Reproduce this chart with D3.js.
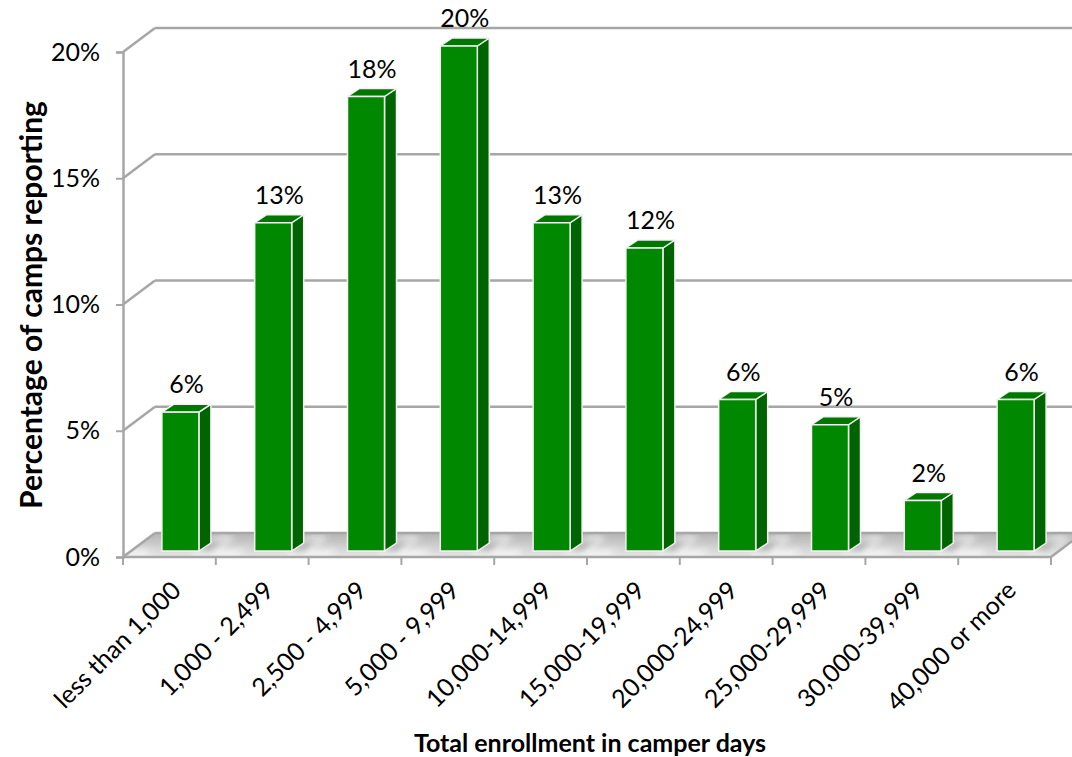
<!DOCTYPE html>
<html>
<head>
<meta charset="utf-8">
<script src="https://cdn.jsdelivr.net/npm/d3@7"></script>
<style>
  body { margin: 0; background: #fff; }
  text { font-family: Lato, "Open Sans", sans-serif; fill: #000; }
</style>
</head>
<body>
<svg id="chart" width="1072" height="757"></svg>
<script>
// Camp enrollment distribution (percent of camps in each camper-day bracket)
const categories = [
  "less than 1,000", "1,000 - 2,499", "2,500 - 4,999", "5,000 - 9,999",
  "10,000-14,999", "15,000-19,999", "20,000-24,999", "25,000-29,999",
  "30,000-39,999", "40,000 or more"
];
const values = [5.5, 13, 18, 20, 13, 12, 6, 5, 2, 6];
const yTicks = [0, 5, 10, 15, 20];
const yTitle = "Percentage of camps reporting";
const xTitle = "Total enrollment in camper days";

const svg = d3.select("#chart");
const defs = svg.append("defs");

// Plot frame (front plane) and the oblique depth offset of the back wall
const plotLeft = 123, plotRight = 1051, plotBottom = 557, plotTop = 52;
const depthX = 32, depthY = -24;

const x = d3.scaleBand().domain(categories).range([plotLeft, plotRight]).paddingInner(0).paddingOuter(0);
const y = d3.scaleLinear().domain([0, 20]).range([plotBottom, plotTop]);

const grid = "#a6a6a6";
const labelSize = "25px";
const pts = arr => arr.map(p => p.join(",")).join(" ");

// Floor shading gradient
const floorGrad = defs.append("linearGradient").attr("id", "floorGrad")
  .attr("x1", 0).attr("y1", 0).attr("x2", 0).attr("y2", 1);
floorGrad.append("stop").attr("offset", 0).attr("stop-color", "#b4b4b4");
floorGrad.append("stop").attr("offset", 1).attr("stop-color", "#e6e6e6");

const softBlur = defs.append("filter").attr("id", "softBlur")
  .attr("x", "-50%").attr("y", "-50%").attr("width", "200%").attr("height", "200%");
softBlur.append("feGaussianBlur").attr("stdDeviation", 3.5);

// Floor
svg.append("polygon")
  .attr("points", pts([[plotLeft, plotBottom], [plotRight, plotBottom],
    [plotRight + depthX, plotBottom + depthY], [plotLeft + depthX, plotBottom + depthY]]))
  .attr("fill", "url(#floorGrad)");

// Light streaks on the floor, one per category
const floorG = svg.append("g").attr("filter", "url(#softBlur)");
categories.forEach(c => {
  const x0 = x(c) + x.bandwidth() * 0.74;
  const w = 16;
  floorG.append("polygon")
    .attr("points", pts([
      [x0, plotBottom - 1], [x0 + w, plotBottom - 1],
      [x0 + w + depthX * 0.85, plotBottom + depthY * 0.85], [x0 + depthX * 0.85, plotBottom + depthY * 0.85]
    ]))
    .attr("fill", "#ffffff");
  floorG.append("polygon")
    .attr("points", pts([
      [x(c) - 8, plotBottom - 1], [x(c) + 22, plotBottom - 1],
      [x(c) + 30, plotBottom - 7], [x(c) - 2, plotBottom - 7]
    ]))
    .attr("fill", "#ffffff").attr("opacity", 0.8);
});

// Bar geometry: front face pushed into the depth, plus oblique side/top
const barW = 37, frontDX = 11, frontDY = -6, sideDX = 12, sideDY = -8;

// Bar shadows cast to the back-right
const shadowG = svg.append("g").attr("filter", "url(#softBlur)");
categories.forEach(c => {
  const bx = x(c) + x.bandwidth() / 2 + frontDX + barW / 2;
  const by = plotBottom + frontDY;
  shadowG.append("polygon")
    .attr("points", pts([
      [bx - 2, by], [bx + 12, by],
      [bx + 30, by - 14], [bx + sideDX, by + sideDY]
    ]))
    .attr("fill", "#7a7a7a").attr("opacity", 0.75);
});

// Back wall gridlines and the left-wall diagonals
yTicks.forEach(t => {
  const yy = y(t);
  svg.append("line")
    .attr("x1", plotLeft + depthX).attr("x2", t > 0 ? 1072 : plotRight + depthX)
    .attr("y1", yy + depthY).attr("y2", yy + depthY)
    .attr("stroke", grid).attr("stroke-width", 2.5);
  svg.append("line")
    .attr("x1", plotLeft).attr("y1", yy)
    .attr("x2", plotLeft + depthX).attr("y2", yy + depthY)
    .attr("stroke", grid).attr("stroke-width", 2.5);
});

// Floor front edge and right edge
svg.append("line")
  .attr("x1", plotLeft).attr("x2", plotRight).attr("y1", plotBottom).attr("y2", plotBottom)
  .attr("stroke", grid).attr("stroke-width", 2.5);
svg.append("line")
  .attr("x1", plotRight).attr("y1", plotBottom).attr("x2", plotRight + depthX).attr("y2", plotBottom + depthY)
  .attr("stroke", grid).attr("stroke-width", 2.5);

// Vertical axis with ticks
const yAxis = d3.axisLeft(y).tickValues(yTicks).tickSize(7).tickPadding(16)
  .tickFormat(d => d + "%");
const yAxisG = svg.append("g").attr("transform", `translate(${plotLeft},0)`).call(yAxis);
yAxisG.select(".domain").attr("stroke", grid).attr("stroke-width", 2.5);
yAxisG.selectAll(".tick line").attr("stroke", grid).attr("stroke-width", 2);
yAxisG.selectAll(".tick text").style("font-size", labelSize).style("font-family", "Lato, sans-serif").attr("fill", "#000");

// Category tick marks on the front floor edge
const xTickPos = categories.map(c => x(c)).concat([plotRight]);
svg.append("g").selectAll("line").data(xTickPos).join("line")
  .attr("x1", d => d).attr("x2", d => d)
  .attr("y1", plotBottom).attr("y2", plotBottom + 8)
  .attr("stroke", grid).attr("stroke-width", 2);

// Bars
const bars = svg.append("g");
categories.forEach((c, i) => {
  const v = values[i];
  const x0 = x(c) + x.bandwidth() / 2 + frontDX - barW / 2;
  const x1 = x0 + barW;
  const yb = y(0) + frontDY;
  const yt = y(v) + frontDY;
  const g = bars.append("g");
  g.append("polygon")
    .attr("points", pts([[x1, yt], [x1 + sideDX, yt + sideDY], [x1 + sideDX, yb + sideDY], [x1, yb]]))
    .attr("fill", "#006400").attr("stroke", "#f2f2f2").attr("stroke-width", 1.5).attr("stroke-linejoin", "round");
  g.append("polygon")
    .attr("points", pts([[x0, yt], [x1, yt], [x1 + sideDX, yt + sideDY], [x0 + sideDX, yt + sideDY]]))
    .attr("fill", "#007800").attr("stroke", "#f2f2f2").attr("stroke-width", 1.5).attr("stroke-linejoin", "round");
  g.append("rect")
    .attr("x", x0).attr("y", yt).attr("width", barW).attr("height", yb - yt)
    .attr("fill", "#008800").attr("stroke", "#f2f2f2").attr("stroke-width", 1.5);
  svg.append("text")
    .attr("x", x0 + barW / 2 + sideDX / 2)
    .attr("y", yt - 19)
    .attr("text-anchor", "middle")
    .style("font-size", labelSize)
    .text(d3.format(".0f")(v) + "%");
});

// Rotated category labels
svg.append("g").selectAll("text").data(categories).join("text")
  .attr("transform", d => `translate(${x(d) + x.bandwidth() / 2 + 13},${plotBottom + 35}) rotate(-45)`)
  .attr("text-anchor", "end")
  .style("font-size", labelSize)
  .text(d => d);

// Axis titles
svg.append("text")
  .attr("transform", `translate(42,305) rotate(-90)`)
  .attr("text-anchor", "middle")
  .style("font-size", "30px").style("font-weight", "bold")
  .text(yTitle);

svg.append("text")
  .attr("x", 590).attr("y", 752)
  .attr("text-anchor", "middle")
  .style("font-size", "25px").style("font-weight", "bold")
  .text(xTitle);
</script>
</body>
</html>
